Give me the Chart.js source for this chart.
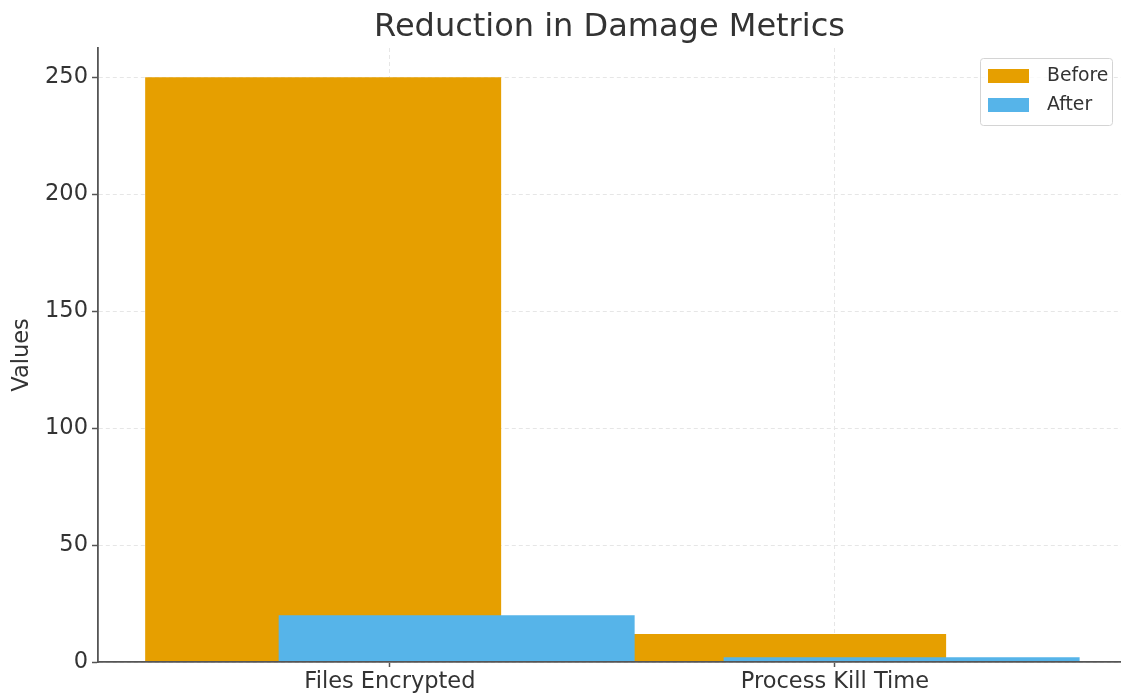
<!DOCTYPE html>
<html>
<head>
<meta charset="utf-8">
<title>Reduction in Damage Metrics</title>
<script src="https://cdn.jsdelivr.net/npm/chart.js@4/dist/chart.umd.min.js"></script>
<style>
  html, body { margin: 0; padding: 0; background: #fff; overflow: hidden; }
  #wrap { width: 1121px; height: 697px; }
</style>
</head>
<body>
<div id="wrap"><canvas id="chart" width="1121" height="697"></canvas></div>
<script>
// Metric values per category
const categories = ['Files Encrypted', 'Process Kill Time'];
const beforeValues = [250, 12];
const afterValues = [20, 2];
const seriesNames = ['Before', 'After'];
const yTicks = [0, 50, 100, 150, 200, 250];

// Bar geometry in category units (bars overlap: shifted left/right of the category centre)
const SHIFT = 0.15;
const BAR_WIDTH = 0.8;

const FONT = 'DejaVu Sans';
const TEXT = '#333333';
const AXIS = '#555555';
const GRID = '#e6e6e6';

Chart.defaults.font.family = FONT;
Chart.defaults.color = TEXT;

// Framed legend in the upper-right corner of the plot
const boxLegend = {
  id: 'boxLegend',
  afterDraw(chart) {
    const { ctx, chartArea: a } = chart;
    const w = 132, h = 67;
    const right = a.right - 9, top = a.top + 10, left = right - w;
    ctx.save();
    ctx.beginPath();
    ctx.roundRect(left + 0.5, top + 0.5, w, h, 3);
    ctx.fillStyle = 'rgba(255,255,255,0.8)';
    ctx.fill();
    ctx.strokeStyle = '#d4d4d4';
    ctx.lineWidth = 1;
    ctx.stroke();
    ctx.font = '18.8px "' + FONT + '"';
    ctx.textBaseline = 'middle';
    chart.data.datasets.forEach((ds, i) => {
      const cy = top + 18 + i * 29;
      ctx.fillStyle = ds.backgroundColor;
      ctx.fillRect(left + 8, cy - 7, 41, 14);
      ctx.fillStyle = TEXT;
      ctx.fillText(ds.label, left + 67, cy);
    });
    ctx.restore();
  }
};

const toPoints = (vals, dx) => vals.map((v, i) => ({ x: i + dx, y: v }));

new Chart(document.getElementById('chart'), {
  type: 'bar',
  data: {
    datasets: [
      { label: seriesNames[0], data: toPoints(beforeValues, -SHIFT), backgroundColor: '#E69F00', order: 2 },
      { label: seriesNames[1], data: toPoints(afterValues, SHIFT), backgroundColor: '#56B4E9', order: 1 }
    ]
  },
  options: {
    responsive: false,
    animation: false,
    events: [],
    layout: { padding: { left: 4, right: 0, top: 0, bottom: 0 } },
    datasets: {
      bar: {
        grouped: false,
        categoryPercentage: 1,
        barPercentage: BAR_WIDTH / (2 * SHIFT),
        borderWidth: 0
      }
    },
    plugins: {
      legend: { display: false },
      tooltip: { enabled: false },
      title: {
        display: true,
        fullSize: false,
        text: 'Reduction in Damage Metrics',
        color: TEXT,
        font: { family: FONT, size: 32, weight: 'normal' },
        padding: { top: 8, bottom: 1.6 }
      }
    },
    scales: {
      x: {
        type: 'linear',
        min: -0.656,
        max: 1.643,
        offset: false,
        afterBuildTicks: s => { s.ticks = categories.map((_, i) => ({ value: i })); },
        afterFit: s => { s.height = 35; },
        ticks: {
          autoSkip: false,
          maxRotation: 0,
          padding: 2,
          color: TEXT,
          font: { size: 22.5 },
          callback: v => categories[v]
        },
        grid: { offset: false, color: GRID, lineWidth: 1, tickLength: 5, tickColor: AXIS, tickWidth: 1.5 },
        border: { display: true, color: AXIS, width: 1.8, dash: [4, 3], z: 1 }
      },
      y: {
        min: 0,
        max: 262.5,
        afterBuildTicks: s => { s.ticks = yTicks.map(v => ({ value: v })); },
        afterFit: s => { s.width = 94; },
        ticks: { padding: 4, color: TEXT, font: { size: 22.5 } },
        grid: { color: GRID, lineWidth: 1, tickLength: 6, tickColor: AXIS, tickWidth: 1.5 },
        border: { display: true, color: AXIS, width: 1.8, dash: [4, 3], z: 1 },
        title: {
          display: true,
          text: 'Values',
          color: TEXT,
          font: { size: 22.5 },
          padding: { top: 4.5, bottom: 0 }
        }
      }
    }
  },
  plugins: [boxLegend]
});
</script>
</body>
</html>
